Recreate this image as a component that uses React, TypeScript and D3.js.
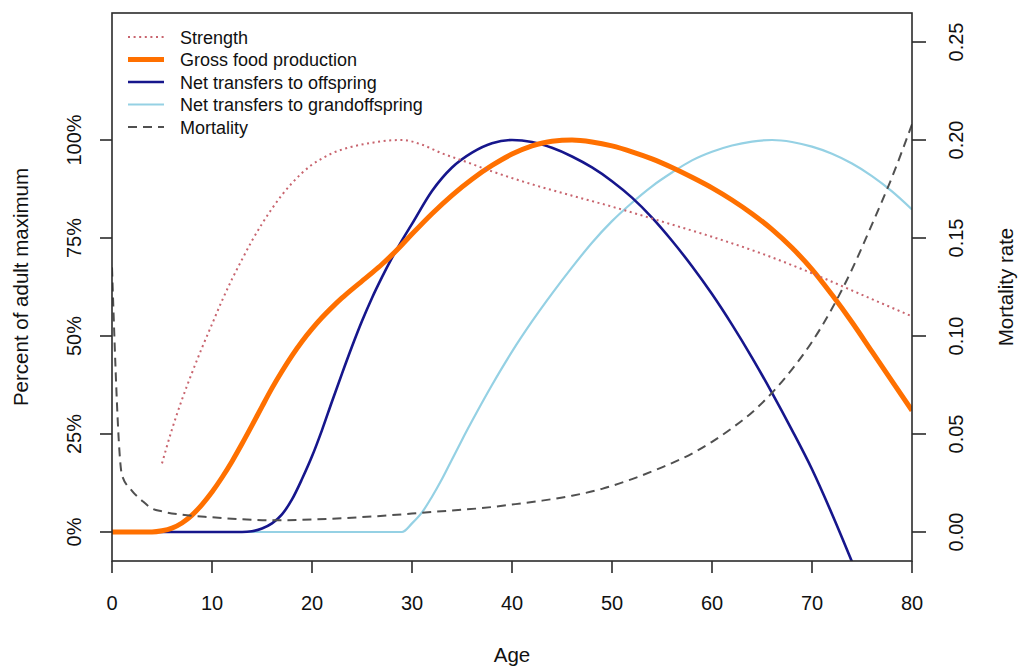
import React from "react";
import * as d3 from "d3";

// ---- Data ----
const strengthAges = [5, 6, 7, 8, 9, 10, 11, 12, 13, 14, 15, 16, 17, 18, 19, 20, 21, 22, 24, 26, 27, 29, 31, 33, 35, 38, 42, 46, 50, 55, 60, 65, 70, 75, 80];
const strengthVals = [17.5, 26.2, 33.8, 40.6, 47, 53, 59, 64.5, 69.5, 74.3, 78.6, 82.5, 86, 89, 91.6, 93.7, 95.3, 96.6, 98.3, 99.3, 99.7, 100, 98.8, 96.6, 94.8, 92, 88.7, 85.8, 83, 79.2, 75.3, 71, 66, 60.5, 55];

const foodAges = [0, 4, 5, 6, 7, 8, 9, 10, 11, 12, 13, 14, 15, 16, 17, 18, 19, 20, 21, 22, 23, 24, 25, 26, 27, 28, 29, 30, 32, 34, 36, 38, 40, 42, 44, 46, 48, 50, 52, 54, 56, 58, 60, 62, 64, 66, 68, 70, 72, 74, 76, 78, 80];
const foodVals = [0, 0, 0.3, 1, 2.3, 4.3, 7, 10.2, 13.9, 18, 22.5, 27.2, 32, 36.7, 41, 45, 48.6, 51.8, 54.7, 57.3, 59.7, 61.9, 64, 66.1, 68.3, 70.7, 73.3, 76, 81.2, 85.9, 90, 93.5, 96.4, 98.5, 99.7, 100, 99.5, 98.5, 97, 95.2, 93, 90.5, 87.8, 84.7, 81.2, 77.2, 72.5, 67, 60.5, 53.5, 46, 38.5, 31];

const offspringAges = [0, 13, 14, 15, 16, 17, 18, 19, 20, 21, 22, 23, 24, 25, 26, 27, 28, 29, 30, 32, 34, 36, 38, 40, 42, 44, 46, 48, 50, 52, 54, 56, 58, 60, 62, 64, 66, 68, 70, 72, 74];
const offspringVals = [0, 0, 0.2, 0.9, 2.2, 4.5, 8.3, 13.5, 19.3, 26, 33.3, 40.4, 47.3, 53.8, 59.7, 65, 69.9, 74.4, 78.6, 87, 93, 96.8, 99.2, 100, 99.5, 98, 95.8, 93, 89.5, 85.3, 80.2, 74.3, 67.8, 60.7, 52.9, 44.5, 35.5, 26, 16, 4.6, -7.6];

const grandAges = [0, 29, 30, 31, 32, 33, 34, 35, 36, 38, 40, 42, 44, 46, 48, 50, 52, 54, 56, 58, 60, 62, 64, 66, 68, 70, 72, 74, 76, 78, 80];
const grandVals = [0, 0, 2.2, 5, 9, 13.5, 18.5, 23.5, 28.3, 37.5, 46, 53.7, 60.8, 67.5, 73.8, 79.3, 84, 88.2, 91.7, 94.8, 97, 98.6, 99.6, 100, 99.5, 98.3, 96.5, 94, 90.8, 86.9, 82.3];

const mortAges = [0, 1, 2, 3, 4, 5, 7, 10, 13, 16, 19, 22, 25, 28, 31, 34, 37, 40, 43, 46, 49, 52, 55, 58, 60, 62, 64, 66, 68, 70, 72, 74, 76, 78, 80];
const mortVals = [0.135, 0.029, 0.021, 0.016, 0.012, 0.0105, 0.0088, 0.0075, 0.0065, 0.006, 0.0062, 0.0068, 0.0076, 0.0086, 0.0098, 0.011, 0.0122, 0.014, 0.016, 0.0185, 0.022, 0.027, 0.033, 0.04, 0.046, 0.053, 0.061, 0.071, 0.083, 0.097, 0.114, 0.134, 0.157, 0.181, 0.208];

const xTicks = [0, 10, 20, 30, 40, 50, 60, 70, 80];
const leftTicks = [0, 25, 50, 75, 100];
const leftTickLabels = ["0%", "25%", "50%", "75%", "100%"];
const rightTicks = [0, 0.05, 0.1, 0.15, 0.2, 0.25];
const rightTickLabels = ["0.00", "0.05", "0.10", "0.15", "0.20", "0.25"];

const legendLabels = ["Strength", "Gross food production", "Net transfers to offspring", "Net transfers to grandoffspring", "Mortality"];

// ---- Layout & styles ----
const W = 1019, H = 668;
const L = 112, R = 912, T = 13, B = 561;
const FONT = "'Liberation Sans', Arial, Helvetica, sans-serif";
const AXIS = "#2b2b2b";

const styles = [
  { color: "#c8646e", width: 2, dash: "2 3.6" },
  { color: "#ff7000", width: 5, dash: "" },
  { color: "#16168c", width: 2.6, dash: "" },
  { color: "#95d1e4", width: 2.2, dash: "" },
  { color: "#505050", width: 2, dash: "9 6" },
];

export default function App() {
  const x = d3.scaleLinear().domain([0, 80]).range([L, R]);
  const yL = d3.scaleLinear().domain([-7.4, 132.4]).range([B, T]);
  const yR = d3.scaleLinear().domain([-0.0148, 0.2648]).range([B, T]);

  const mk = (ages: number[], vals: number[], ys: d3.ScaleLinear<number, number>) =>
    d3.line<number>().x((_, i) => x(ages[i])).y((v) => ys(v)).curve(d3.curveMonotoneX)(vals) || "";

  const paths = [
    { d: mk(grandAges, grandVals, yL), s: styles[3] },
    { d: mk(offspringAges, offspringVals, yL), s: styles[2] },
    { d: mk(foodAges, foodVals, yL), s: styles[1] },
    { d: mk(strengthAges, strengthVals, yL), s: styles[0] },
    { d: mk(mortAges, mortVals, yR), s: styles[4] },
  ];

  return (
    <svg width={W} height={H} style={{ position: "absolute", left: 0, top: 0, background: "#fff" }} fontFamily={FONT}>
      <defs>
        <clipPath id="plotclip">
          <rect x={L} y={T} width={R - L} height={B - T} />
        </clipPath>
      </defs>
      <rect x={0} y={0} width={W} height={H} fill="#fff" />

      <g clipPath="url(#plotclip)" fill="none" strokeLinejoin="round">
        {paths.map((p, i) => (
          <path key={i} d={p.d} stroke={p.s.color} strokeWidth={p.s.width} strokeDasharray={p.s.dash || undefined} />
        ))}
      </g>

      {/* box */}
      <rect x={L} y={T} width={R - L} height={B - T} fill="none" stroke={AXIS} strokeWidth={1.6} />

      {/* x axis */}
      {xTicks.map((t) => (
        <g key={"x" + t}>
          <line x1={x(t)} x2={x(t)} y1={B} y2={B + 12} stroke={AXIS} strokeWidth={1.6} />
          <text x={x(t)} y={610} textAnchor="middle" fontSize={20} fill="#111">{t}</text>
        </g>
      ))}
      <text x={(L + R) / 2} y={662} textAnchor="middle" fontSize={20.5} fill="#111">Age</text>

      {/* left axis */}
      {leftTicks.map((t, i) => (
        <g key={"l" + t}>
          <line x1={L - 12} x2={L} y1={yL(t)} y2={yL(t)} stroke={AXIS} strokeWidth={1.6} />
          <text transform={`translate(81,${yL(t)}) rotate(-90)`} textAnchor="middle" fontSize={20} fill="#111">{leftTickLabels[i]}</text>
        </g>
      ))}
      <text transform={`translate(28,${(T + B) / 2}) rotate(-90)`} textAnchor="middle" fontSize={20.5} fill="#111">Percent of adult maximum</text>

      {/* right axis */}
      {rightTicks.map((t, i) => (
        <g key={"r" + t}>
          <line x1={R} x2={R + 14} y1={yR(t)} y2={yR(t)} stroke={AXIS} strokeWidth={1.6} />
          <text transform={`translate(963,${yR(t)}) rotate(-90)`} textAnchor="middle" fontSize={20} fill="#111">{rightTickLabels[i]}</text>
        </g>
      ))}
      <text transform={`translate(1013,${(T + B) / 2}) rotate(-90)`} textAnchor="middle" fontSize={20.5} fill="#111">Mortality rate</text>

      {/* legend */}
      {legendLabels.map((lab, i) => {
        const cy = 37 + i * 22.5;
        const s = styles[i];
        return (
          <g key={lab}>
            <line x1={128} x2={164} y1={cy} y2={cy} stroke={s.color} strokeWidth={s.width} strokeDasharray={s.dash || undefined} />
            <text x={180} y={cy + 6.5} fontSize={18} fill="#111">{lab}</text>
          </g>
        );
      })}
    </svg>
  );
}
